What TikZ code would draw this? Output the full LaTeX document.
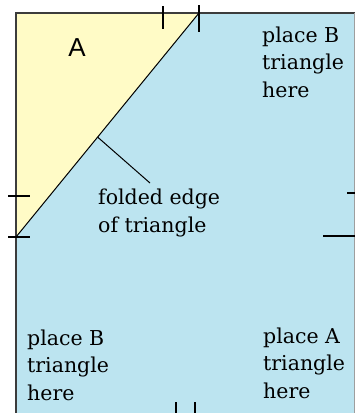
\documentclass[tikz,border=0pt]{standalone}
\usepackage{fontspec}
\setmainfont{DejaVu Serif}
\setsansfont{Liberation Sans}
\usetikzlibrary{calc,positioning}
\definecolor{paperA}{RGB}{255,251,198}
\definecolor{paperB}{RGB}{188,228,240}
\definecolor{rim}{RGB}{60,60,60}

\begin{document}
\begin{tikzpicture}[
      x=1pt, y=-1pt,
      font=\fontsize{20.5}{27.5}\selectfont,
      % Reusable styles
      lbl/.style={
        inner sep=0pt,
        align=left,
        anchor=base west
      },
      tickmark/.style={line width=1.4pt, draw=black},
      fold/.style={line width=1pt, draw=black}
    ]
    \useasboundingbox (0,0) rectangle (355,413);

    % Paper
    \coordinate (nw) at (16,13);
    \coordinate (se) at (355,413);
    \coordinate (foldtop) at (199,13);
    \coordinate (foldbot) at (16,237);
    \fill[paperB] (nw) rectangle (se);
    \fill[paperA] (nw) -- (foldtop) -- (foldbot) -- cycle;
    \draw[rim, line width=1.5pt] (16,413) -- (nw) -- (355,13);
    \draw[rim!50, line width=1pt] (354.5,13) -- (354.5,413);
    \draw[fold] (foldbot) -- (foldtop);

    % Nodes (anchored at the baseline of the last line)
    \node[lbl, font=\sffamily\fontsize{26}{26}\selectfont, anchor=center] (tri) at (77,48) {A};
    \node[lbl] (topright) at (262,97) {place B\\triangle\\here};
    \node[lbl] (foldlbl) at (98,232) {folded edge\\of triangle};
    \node[lbl] (botleft) at (27,400) {place B\\triangle\\here};
    \node[lbl] (botright) at (263,398) {place A\\triangle\\here};

    % Tick marks
    \draw[tickmark] (163,6) -- (163,29);
    \draw[tickmark] (199,5) -- (199,32);
    \draw[tickmark] (8,196) -- (30,196);
    \draw[tickmark] (8,237) -- (30,237);
    \draw[tickmark] (347,193) -- (355,193);
    \draw[tickmark] (323,236) -- (355,236);
    \draw[tickmark] (176,402) -- (176,413);
    \draw[tickmark] (195,402) -- (195,413);

    % Edges
    \coordinate (leadend) at (150,183);
    \draw[fold] ($(foldbot)!0.446!(foldtop)$) -- (leadend);
  \end{tikzpicture}
\end{document}
